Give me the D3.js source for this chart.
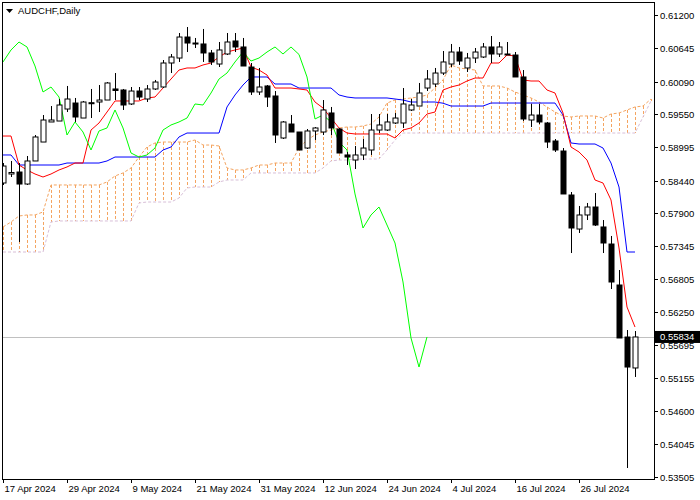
<!DOCTYPE html>
<html>
<head>
<meta charset="utf-8">
<script src="https://cdn.jsdelivr.net/npm/d3@7"></script>
<style>
  body { margin: 0; background: #fff; }
  svg text { font-family: "Liberation Sans", Arial, sans-serif; }
</style>
</head>
<body>
<div id="chart"></div>
<script>
// daily candles, AUDCHF, 17 Apr 2024 .. 6 Aug 2024
const opens = [0.5840,0.5855,0.58583,0.58383,0.58767,0.59083,0.59417,0.59433,0.59633,0.59733,
  0.59483,0.59738,0.5975,0.59783,0.59967,0.5995,0.59717,0.59933,0.598,0.59967,
  0.6,0.604,0.60483,0.60833,0.60733,0.60717,0.60567,0.60383,0.6055,0.60767,
  0.60667,0.60333,0.59917,0.60017,0.5985,0.5915,0.59383,0.5925,0.58983,0.59267,
  0.5925,0.59567,0.593,0.58867,0.58783,0.58867,0.5895,0.59283,0.59283,0.594,
  0.594,0.59617,0.59683,0.59983,0.6005,0.60233,0.60383,0.60583,0.60317,0.60483,
  0.605,0.60667,0.6055,0.6055,0.60533,0.60167,0.5945,0.59533,0.594,0.591,
  0.58933,0.582,0.57633,0.57867,0.58,0.57667,0.57383,0.567,0.55833,0.55317];
const highs = [0.58733,0.58767,0.58733,0.5885,0.592,0.59533,0.59683,0.598,0.60017,0.59817,
  0.59767,0.59967,0.60033,0.60083,0.60233,0.59967,0.6,0.6,0.60033,0.60117,
  0.6045,0.6055,0.609,0.61,0.60817,0.60967,0.60617,0.6075,0.609,0.609,
  0.60817,0.604,0.60317,0.60033,0.59933,0.59433,0.59533,0.5925,0.593,0.59333,
  0.59783,0.59667,0.59317,0.58917,0.59017,0.59133,0.5955,0.5955,0.5955,0.59567,
  0.59983,0.598,0.60067,0.60283,0.60317,0.606,0.60717,0.60667,0.60567,0.6065,
  0.60733,0.6085,0.6075,0.6075,0.60583,0.60283,0.59717,0.59717,0.59417,0.59133,
  0.58983,0.5825,0.58017,0.58067,0.58233,0.57783,0.57517,0.5695,0.5595,0.55933];
const lows = [0.58367,0.5850,0.57417,0.58367,0.58767,0.59083,0.59417,0.59433,0.59583,0.59417,
  0.59483,0.59483,0.59583,0.59783,0.59783,0.59617,0.597,0.59783,0.5975,0.5995,
  0.59983,0.60233,0.60417,0.60583,0.6065,0.60417,0.60367,0.60333,0.60533,0.60583,
  0.6035,0.59867,0.59867,0.59667,0.59067,0.59133,0.5925,0.5895,0.58967,0.59117,
  0.592,0.592,0.589,0.587,0.58633,0.58783,0.58867,0.59233,0.59267,0.59383,
  0.59317,0.596,0.59683,0.59933,0.6,0.602,0.60333,0.60367,0.6025,0.604,
  0.60483,0.604,0.605,0.60533,0.60167,0.59433,0.59333,0.59383,0.58983,0.58917,
  0.58217,0.57233,0.57567,0.57783,0.57683,0.57233,0.56633,0.55817,0.5365,0.55167];
const closes = [0.58683,0.58575,0.58383,0.58767,0.59167,0.5945,0.5945,0.597,0.598,0.595,
  0.5975,0.59722,0.59783,0.60067,0.59942,0.597,0.59933,0.59833,0.59967,0.60083,
  0.604,0.605,0.60833,0.60733,0.60717,0.60567,0.60417,0.60617,0.6075,0.60667,
  0.6035,0.59917,0.6,0.59833,0.592,0.59417,0.5925,0.5895,0.59267,0.59317,
  0.59617,0.59317,0.589,0.58833,0.58867,0.58983,0.59283,0.59367,0.59417,0.59483,
  0.59717,0.597,0.599,0.60133,0.60233,0.60417,0.60583,0.60433,0.60483,0.60583,
  0.60667,0.6055,0.60667,0.60542,0.60167,0.59467,0.59533,0.59417,0.59083,0.5895,
  0.58217,0.5765,0.57867,0.58,0.577,0.574,0.5675,0.55817,0.55333,0.55834];

// Ichimoku lines
const tenkan = [0.59183,0.59183,0.587,0.58617,0.5855,0.5850,0.5855,0.58617,0.58667,0.58733,
  0.58733,0.59283,0.594,0.59583,0.59767,0.59767,0.59767,0.59767,0.59817,0.59833,
  0.59983,0.60133,0.60283,0.60317,0.60317,0.60367,0.604,0.605,0.60583,0.60617,
  0.6065,0.60333,0.60283,0.602,0.59983,0.59983,0.59983,0.59967,0.5995,0.5975,
  0.5965,0.59483,0.59317,0.59233,0.59217,0.59217,0.59217,0.59217,0.59217,0.5915,
  0.59283,0.59317,0.594,0.5955,0.59583,0.5995,0.6,0.60033,0.601,0.6015,
  0.6015,0.604,0.604,0.60533,0.60517,0.60117,0.601,0.601,0.5995,0.599,
  0.59567,0.59,0.58917,0.58783,0.5845,0.584,0.58117,0.57317,0.56333,0.56];
const kijun = [0.58867,0.58867,0.587,0.587,0.587,0.587,0.587,0.587,0.58733,0.58733,
  0.58733,0.58733,0.58733,0.58767,0.58833,0.58833,0.58833,0.58833,0.58833,0.58833,
  0.5895,0.59,0.59167,0.59233,0.59233,0.59233,0.59233,0.59233,0.59667,0.59867,
  0.60033,0.60167,0.60167,0.60167,0.6005,0.6005,0.6005,0.59983,0.59983,0.59983,
  0.59983,0.59983,0.59867,0.59833,0.59817,0.59817,0.59817,0.59817,0.59817,0.598,
  0.59783,0.5975,0.5975,0.5975,0.5975,0.5973,0.59683,0.59683,0.59683,0.59683,
  0.59683,0.59733,0.59733,0.59733,0.59733,0.59733,0.59733,0.59733,0.59733,0.59733,
  0.59533,0.59067,0.5905,0.5905,0.5905,0.58983,0.58733,0.58333,0.5725,0.5725];
const spanA = [0.57667,0.5775,0.5785,0.57867,0.57867,0.57917,0.58367,0.58367,0.58367,0.58367,
  0.58367,0.58367,0.58367,0.58417,0.58517,0.58567,0.5865,0.58833,0.59,0.59067,
  0.59083,0.59083,0.59083,0.59083,0.59117,0.59033,0.59033,0.59017,0.5865,0.58617,
  0.58617,0.5865,0.587,0.587,0.58733,0.58733,0.58733,0.58983,0.59117,0.592,
  0.5925,0.59283,0.59317,0.59333,0.59333,0.5935,0.59383,0.5950,0.59733,0.59783,
  0.598,0.59817,0.59833,0.59867,0.59983,0.60117,0.60367,0.60317,0.603,0.60283,
  0.60017,0.60017,0.60017,0.59983,0.59917,0.59867,0.59817,0.5975,0.59667,0.59583,
  0.59517,0.595,0.59517,0.59517,0.59517,0.59483,0.5955,0.59567,0.59617,0.59667,
  0.59683,0.598];
const spanB = [0.5725,0.5725,0.5725,0.5725,0.5725,0.5725,0.5775,0.57767,0.57767,0.57767,
  0.57767,0.57767,0.57767,0.57767,0.57767,0.57767,0.57767,0.58067,0.58083,0.58083,
  0.58083,0.58083,0.5815,0.58317,0.58333,0.58333,0.58333,0.58417,0.5845,0.5845,
  0.5845,0.58567,0.58567,0.58567,0.58567,0.58567,0.58567,0.58567,0.58567,0.58567,
  0.5865,0.58767,0.58783,0.58783,0.588,0.588,0.588,0.588,0.5895,0.59117,
  0.59233,0.59233,0.59233,0.59233,0.59233,0.59233,0.59233,0.59233,0.59233,0.59233,
  0.59233,0.59233,0.59233,0.59233,0.59233,0.59233,0.59233,0.59233,0.59233,0.59233,
  0.59233,0.59233,0.59233,0.59233,0.59233,0.59233,0.59233,0.59233,0.59233,0.59233,
  0.5950,0.59767];

const priceTicks = [0.61200,0.60645,0.60090,0.59550,0.58995,0.58440,0.57900,0.57345,
  0.56805,0.56250,0.55695,0.55155,0.54600,0.54045,0.53505];
const dateLabels = ["17 Apr 2024","29 Apr 2024","9 May 2024","21 May 2024","31 May 2024",
  "12 Jun 2024","24 Jun 2024","4 Jul 2024","16 Jul 2024","26 Jul 2024"];
const dateIdx = [0,8,16,24,32,40,48,56,64,72];
const lastPrice = 0.55834;
const chikouShift = 26;

const W = 700, H = 500;
const plot = { left: 2, top: 2, right: 654, bottom: 479 };

const svg = d3.select("#chart").append("svg")
  .attr("width", W).attr("height", H);

svg.append("defs").append("clipPath").attr("id", "clip")
  .append("rect")
  .attr("x", plot.left).attr("y", plot.top)
  .attr("width", plot.right - plot.left).attr("height", plot.bottom - plot.top);

const x = d3.scaleLinear().domain([0, 79]).range([3, 635]);
const y = d3.scaleLinear().domain([0.612, 0.53505]).range([15, 476.7]);

const g = svg.append("g").attr("clip-path", "url(#clip)");

// cloud hatching
g.selectAll("line.hatch")
  .data(spanA.map((a, i) => ({ i, a, b: spanB[i] })))
  .join("line")
  .attr("x1", d => Math.round(x(d.i)) + 0.5).attr("x2", d => Math.round(x(d.i)) + 0.5)
  .attr("y1", d => y(d.a)).attr("y2", d => y(d.b))
  .attr("stroke", "#f4a460").attr("stroke-width", 1).attr("stroke-dasharray", "3,2");

function drawLine(vals, color, dash, offset = 0) {
  g.append("path")
    .datum(vals)
    .attr("fill", "none")
    .attr("stroke", color)
    .attr("stroke-width", 1)
    .attr("stroke-dasharray", dash)
    .attr("d", d3.line().x((d, i) => x(i + offset)).y(d => y(d)));
}

drawLine(spanB, "#d8bfd8", "3,2");
drawLine(spanA, "#f4a460", "3,2");

// bid line
g.append("line")
  .attr("x1", plot.left).attr("x2", plot.right)
  .attr("y1", Math.round(y(lastPrice)) + 0.5).attr("y2", Math.round(y(lastPrice)) + 0.5)
  .attr("stroke", "#c0c0c0");

drawLine(kijun, "#0000ff", null);
drawLine(tenkan, "#ff0000", null);
// chikou = closes moved back 26 bars
drawLine(closes.slice(chikouShift), "#00ff00", null);

// candles
const candles = opens.map((o, i) => ({ i, o, h: highs[i], l: lows[i], c: closes[i] }));
const cg = g.selectAll("g.candle").data(candles).join("g");
cg.append("line")
  .attr("x1", d => Math.round(x(d.i)) + 0.5).attr("x2", d => Math.round(x(d.i)) + 0.5)
  .attr("y1", d => y(d.h)).attr("y2", d => y(d.l))
  .attr("stroke", "#000");
cg.append("rect")
  .attr("x", d => Math.round(x(d.i)) - 2)
  .attr("y", d => y(Math.max(d.o, d.c)))
  .attr("width", 5)
  .attr("height", d => Math.max(1, Math.abs(y(d.o) - y(d.c))))
  .attr("fill", d => d.c >= d.o ? "#fff" : "#000")
  .attr("stroke", "#000");

// frame
svg.append("rect")
  .attr("x", plot.left + 0.5).attr("y", plot.top + 0.5)
  .attr("width", plot.right - plot.left).attr("height", plot.bottom - plot.top)
  .attr("fill", "none").attr("stroke", "#000");

// price axis
const pa = svg.append("g");
priceTicks.forEach(v => {
  const yy = Math.round(y(v)) + 0.5;
  pa.append("line").attr("x1", plot.right).attr("x2", plot.right + 4)
    .attr("y1", yy).attr("y2", yy).attr("stroke", "#000");
  pa.append("text").attr("x", 660).attr("y", yy + 3.5)
    .attr("font-size", 9.5).attr("fill", "#000").text(v.toFixed(5));
});
const ly = y(lastPrice);
pa.append("rect").attr("x", 655).attr("y", ly - 6).attr("width", 45).attr("height", 12).attr("fill", "#000");
pa.append("text").attr("x", 660).attr("y", ly + 3.5)
  .attr("font-size", 9.5).attr("fill", "#fff").text(lastPrice.toFixed(5));

// date axis
dateIdx.forEach((idx, k) => {
  const xx = Math.round(x(idx)) + 0.5;
  svg.append("line").attr("x1", xx).attr("x2", xx)
    .attr("y1", plot.bottom).attr("y2", plot.bottom + 4).attr("stroke", "#000");
  svg.append("text").attr("x", xx + 1).attr("y", 492)
    .attr("font-size", 9.5).attr("fill", "#000").text(dateLabels[k]);
});

// title
svg.append("path").attr("d", "M6,9 L13,9 L9.5,13 Z").attr("fill", "#000");
svg.append("text").attr("x", 18).attr("y", 14)
  .attr("font-size", 9.5).attr("fill", "#000").text("AUDCHF,Daily");
</script>
</body>
</html>
